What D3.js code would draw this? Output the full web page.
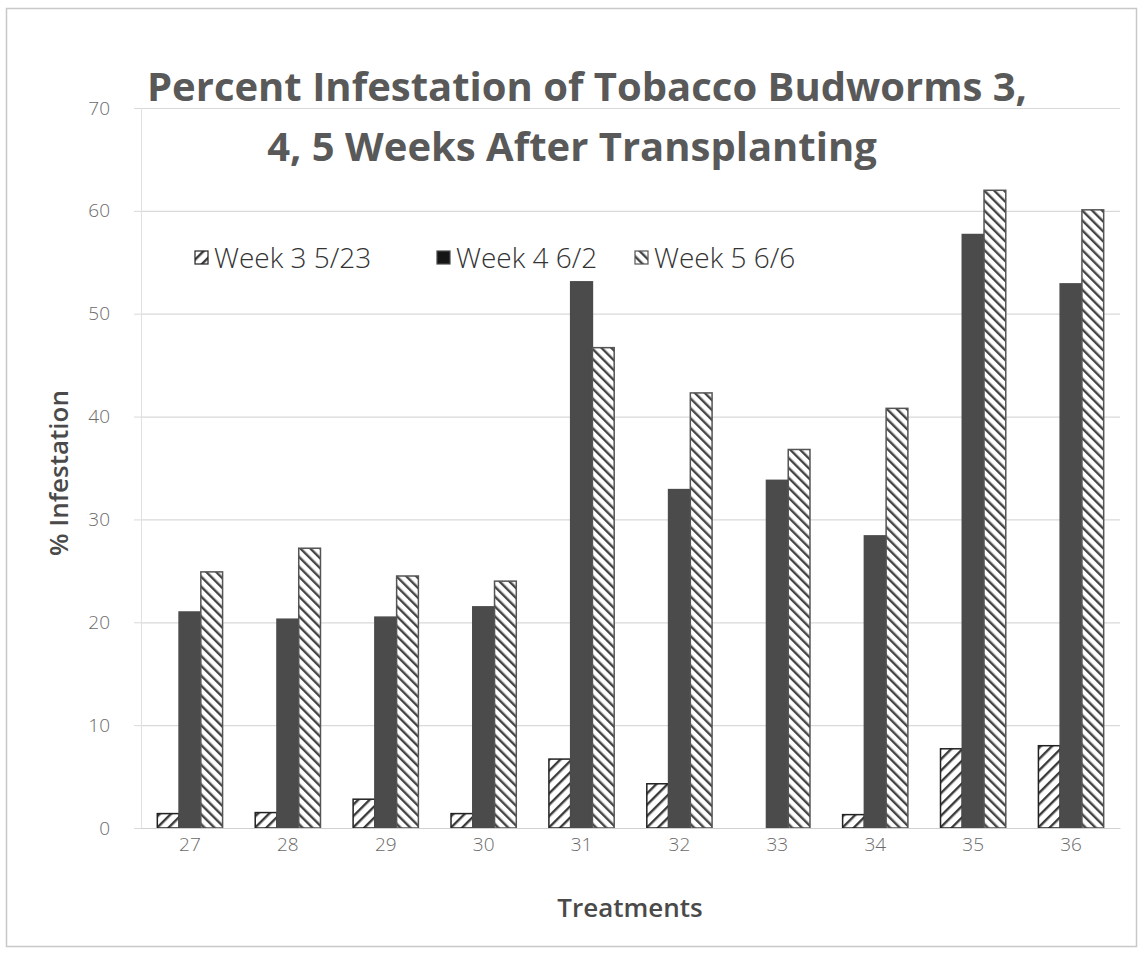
<!DOCTYPE html>
<html>
<head>
<meta charset="utf-8">
<script src="https://cdn.jsdelivr.net/npm/d3@7"></script>
<style>
  html, body { margin: 0; padding: 0; background: #fff; }
  svg { display: block; }
  text { font-family: "Open Sans", "Noto Sans", sans-serif; }
</style>
</head>
<body>
<svg id="chart" width="1141" height="954"></svg>
<script>
// Treatments along the x axis
const treatments = ["27", "28", "29", "30", "31", "32", "33", "34", "35", "36"];
// Percent infestation per week
const week3 = [1.4, 1.5, 2.8, 1.4, 6.7, 4.3, 0, 1.3, 7.7, 8.0];
const week4 = [21.0, 20.3, 20.5, 21.5, 53.1, 32.9, 33.8, 28.4, 57.7, 52.9];
const week5 = [24.9, 27.2, 24.5, 24.0, 46.7, 42.3, 36.8, 40.8, 62.0, 60.1];
const seriesNames = ["Week 3 5/23", "Week 4 6/2", "Week 5 6/6"];
const yTicks = [0, 10, 20, 30, 40, 50, 60, 70];

const series = [week3, week4, week5];
const svg = d3.select("#chart");

// hatch patterns
const defs = svg.append("defs");
const p1 = defs.append("pattern").attr("id", "hatchFwd")
  .attr("patternUnits", "userSpaceOnUse").attr("width", 8).attr("height", 8)
  .attr("patternTransform", "rotate(45)");
p1.append("rect").attr("width", 8).attr("height", 8).attr("fill", "#fff");
p1.append("rect").attr("x", 0).attr("width", 2.4).attr("height", 8).attr("fill", "#3a3a3a");

const p3 = defs.append("pattern").attr("id", "hatchBack")
  .attr("patternUnits", "userSpaceOnUse").attr("width", 7).attr("height", 7)
  .attr("patternTransform", "rotate(-45)");
p3.append("rect").attr("width", 7).attr("height", 7).attr("fill", "#fff");
p3.append("rect").attr("x", 0).attr("width", 2.4).attr("height", 7).attr("fill", "#454545");

const fills = ["url(#hatchFwd)", "#4b4b4b", "url(#hatchBack)"];
const strokes = ["#222", "#4b4b4b", "#555"];
const legendFills = ["url(#hatchFwd)", "#151515", "url(#hatchBack)"];

// outer frame
svg.append("rect").attr("x", 6.5).attr("y", 8.5).attr("width", 1130).attr("height", 938)
  .attr("fill", "none").attr("stroke", "#c8c8c8").attr("stroke-width", 1.5);

const plot = { left: 141, right: 1120, top: 108, bottom: 828 };

const x0 = d3.scaleBand().domain(treatments).range([plot.left, plot.right])
  .paddingInner(1 / 3).paddingOuter(1 / 6);
const x1 = d3.scaleBand().domain(d3.range(3)).range([0, x0.bandwidth()]);
const y = d3.scaleLinear().domain([0, 70]).range([plot.bottom, plot.top]);

// gridlines
svg.append("g")
  .attr("transform", `translate(${plot.left},0)`)
  .call(d3.axisLeft(y).tickValues(yTicks).tickSize(-(plot.right - plot.left)).tickFormat(""))
  .call(g => g.select(".domain").remove())
  .call(g => g.selectAll("line").attr("stroke", "#d9d9d9").attr("stroke-width", 1.2));

// y axis line and ticks
const yAxis = svg.append("g")
  .attr("transform", `translate(${plot.left},0)`)
  .call(d3.axisLeft(y).tickValues(yTicks).tickSize(7).tickPadding(24))
  .call(g => g.select(".domain").attr("stroke", "#e0e0e0"))
  .call(g => g.selectAll("line").attr("stroke", "#d9d9d9"));
yAxis.selectAll("text").attr("fill", "#6a6a6a").attr("font-size", 19)
  .style("font-family", "Open Sans, sans-serif").style("font-weight", 300);

// bars
const groups = svg.append("g").selectAll("g")
  .data(treatments).join("g")
  .attr("transform", d => `translate(${x0(d)},0)`);

groups.selectAll("rect")
  .data((d, i) => series.map((s, k) => ({ k, v: s[i] })).filter(e => e.v > 0))
  .join("rect")
  .attr("x", d => x1(d.k))
  .attr("width", x1.bandwidth())
  .attr("y", d => y(d.v))
  .attr("height", d => y(0) - y(d.v))
  .attr("fill", d => fills[d.k])
  .attr("stroke", d => strokes[d.k])
  .attr("stroke-width", 1.5);

// x axis
const xAxis = svg.append("g")
  .attr("transform", `translate(0,${plot.bottom})`)
  .call(d3.axisBottom(x0).tickSize(0).tickPadding(10))
  .call(g => g.select(".domain").attr("stroke", "#d0d0d0").attr("stroke-width", 1.2));
xAxis.selectAll("text").attr("fill", "#6a6a6a").attr("font-size", 19)
  .style("font-family", "Open Sans, sans-serif").style("font-weight", 300);

// title
const title = svg.append("text").attr("text-anchor", "middle")
  .attr("fill", "#595959").attr("font-size", 40).attr("font-weight", 700);
title.append("tspan").attr("x", 587).attr("y", 101).text("Percent Infestation of Tobacco Budworms 3,");
title.append("tspan").attr("x", 572).attr("y", 161).text("4, 5 Weeks After Transplanting");

// axis titles
svg.append("text").attr("x", 630).attr("y", 917).attr("text-anchor", "middle")
  .attr("fill", "#4a4a4a").attr("font-size", 26).attr("font-weight", 600).text("Treatments");
svg.append("text").attr("transform", "translate(68,473) rotate(-90)").attr("text-anchor", "middle")
  .attr("fill", "#4a4a4a").attr("font-size", 26).attr("font-weight", 600).text("% Infestation");

// legend
const legendX = [195, 437, 635];
const legend = svg.append("g").selectAll("g").data(seriesNames).join("g")
  .attr("transform", (d, i) => `translate(${legendX[i]},258)`);
legend.append("rect").attr("x", 0).attr("y", -7).attr("width", 13).attr("height", 13)
  .attr("fill", (d, i) => legendFills[i]).attr("stroke", (d, i) => strokes[i]).attr("stroke-width", 1.2);
legend.append("text").attr("x", 19).attr("y", 10).attr("fill", "#333")
  .attr("font-size", 28).style("font-weight", 300).text(d => d);
</script>
</body>
</html>
